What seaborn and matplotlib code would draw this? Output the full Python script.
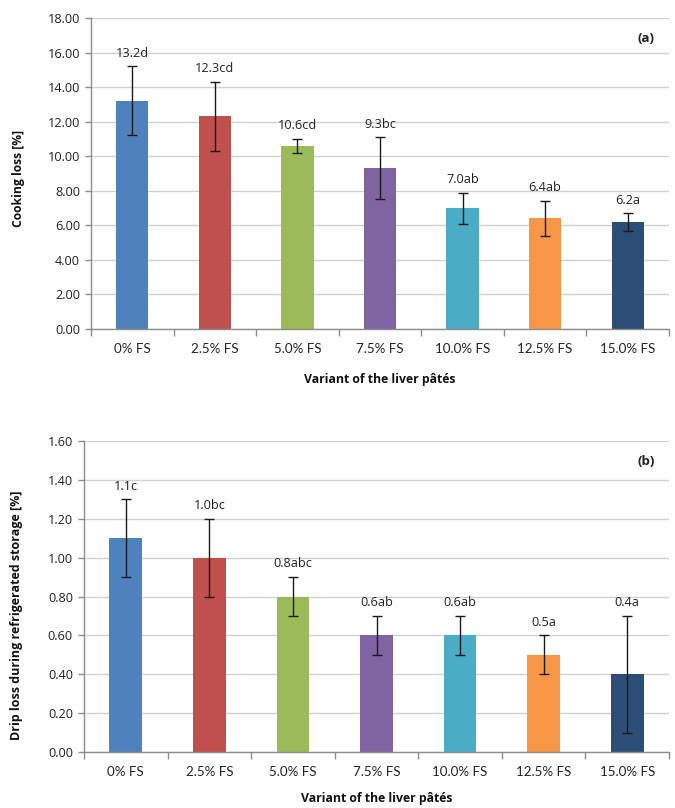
import numpy as np
import pandas as pd
import matplotlib
matplotlib.use("Agg")
import matplotlib.pyplot as plt
import seaborn as sns
from matplotlib.ticker import FormatStrFormatter, FixedLocator

variants = ["0% FS", "2.5% FS", "5.0% FS", "7.5% FS", "10.0% FS", "12.5% FS", "15.0% FS"]

cooking_loss = [13.2, 12.3, 10.6, 9.3, 7.0, 6.4, 6.2]
cooking_err = [2.0, 2.0, 0.4, 1.8, 0.9, 1.0, 0.5]
cooking_letters = ["d", "cd", "cd", "bc", "ab", "ab", "a"]

drip_loss = [1.1, 1.0, 0.8, 0.6, 0.6, 0.5, 0.4]
drip_err = [0.2, 0.2, 0.1, 0.1, 0.1, 0.1, 0.3]
drip_letters = ["c", "bc", "abc", "ab", "ab", "a", "a"]

colors = ["#4F81BD", "#C0504D", "#9BBB59", "#8064A2", "#4BACC6", "#F79646", "#2C4D75"]

sns.set_theme(style="white")
plt.rcParams["font.family"] = ["Open Sans", "DejaVu Sans"]

fig = plt.figure(figsize=(6.75, 8.08), dpi=100)
ax_a = fig.add_axes([91 / 675, 479 / 808, 578 / 675, 311 / 808])
ax_b = fig.add_axes([84 / 675, 56 / 808, 585 / 675, 311 / 808])

GRID = "#D0D0D0"
AXIS = "#8C8C8C"
TXT = "#222222"


def panel(ax, values, errs, letters, ymax, ystep, ylabel, ylabel_size,
          ylabel_xy, xlabel_pad, tag):
    df = pd.DataFrame({"variant": variants, "value": values})
    sns.barplot(data=df, x="variant", y="value", hue="variant", palette=colors,
                width=0.39, legend=False, ax=ax, saturation=1, edgecolor="none",
                zorder=2)
    xs = np.arange(len(variants))
    ax.errorbar(xs, values, yerr=errs, fmt="none", ecolor="#1a1a1a",
                elinewidth=1.0, capsize=3.5, capthick=1.0, zorder=3)
    for x, v, e, l in zip(xs, values, errs, letters):
        ax.annotate(f"{v:.1f}{l}", (x, v + e), xytext=(0, 9.5),
                    textcoords="offset points", ha="center", va="center",
                    fontsize=9.2, color=TXT)

    ax.set_xlim(-0.5, len(variants) - 0.5)
    ax.set_ylim(0, ymax)
    ax.yaxis.set_major_locator(FixedLocator(np.arange(0, ymax + ystep / 2, ystep)))
    ax.yaxis.set_major_formatter(FormatStrFormatter("%.2f"))
    ax.yaxis.grid(True, color=GRID, linewidth=1.0, zorder=0)
    ax.set_axisbelow(True)

    ax.xaxis.set_minor_locator(FixedLocator(np.arange(-0.5, len(variants), 1.0)))
    ax.tick_params(axis="x", which="major", length=0, pad=10, labelcolor=TXT)
    ax.tick_params(axis="x", which="minor", length=5, width=1, color=AXIS,
                   direction="out", bottom=True)
    ax.tick_params(axis="y", which="major", length=4, width=1, color=AXIS,
                   direction="out", left=True, labelsize=9.2, labelcolor=TXT,
                   pad=4)
    for lab in ax.get_xticklabels():
        lab.set_family(["Lato", "DejaVu Sans"])
        lab.set_fontsize(9.6)

    for s in ["top", "right"]:
        ax.spines[s].set_visible(False)
    for s in ["left", "bottom"]:
        ax.spines[s].set_color(AXIS)
        ax.spines[s].set_linewidth(1.0)

    ax.set_xlabel("Variant of the liver pâtés", fontsize=8.8, fontweight="bold",
                  labelpad=xlabel_pad, color="#111111")
    ax.set_ylabel(ylabel, fontsize=ylabel_size, fontweight="bold", color="#111111")
    ax.yaxis.set_label_coords(*ylabel_xy)
    ax.text(0.975, 0.935, tag, transform=ax.transAxes, ha="right", va="center",
            fontsize=9.6, fontweight="bold", color=TXT)


panel(ax_a, cooking_loss, cooking_err, cooking_letters, 18, 2,
      "Cooking loss [%]", 8.7, (-0.115, 0.485), 13, "(a)")
panel(ax_b, drip_loss, drip_err, drip_letters, 1.6, 0.2,
      "Drip loss during refrigerated storage [%]", 9.0, (-0.105, 0.44), 10, "(b)")

fig.savefig("out.png", dpi=100, facecolor="white")
